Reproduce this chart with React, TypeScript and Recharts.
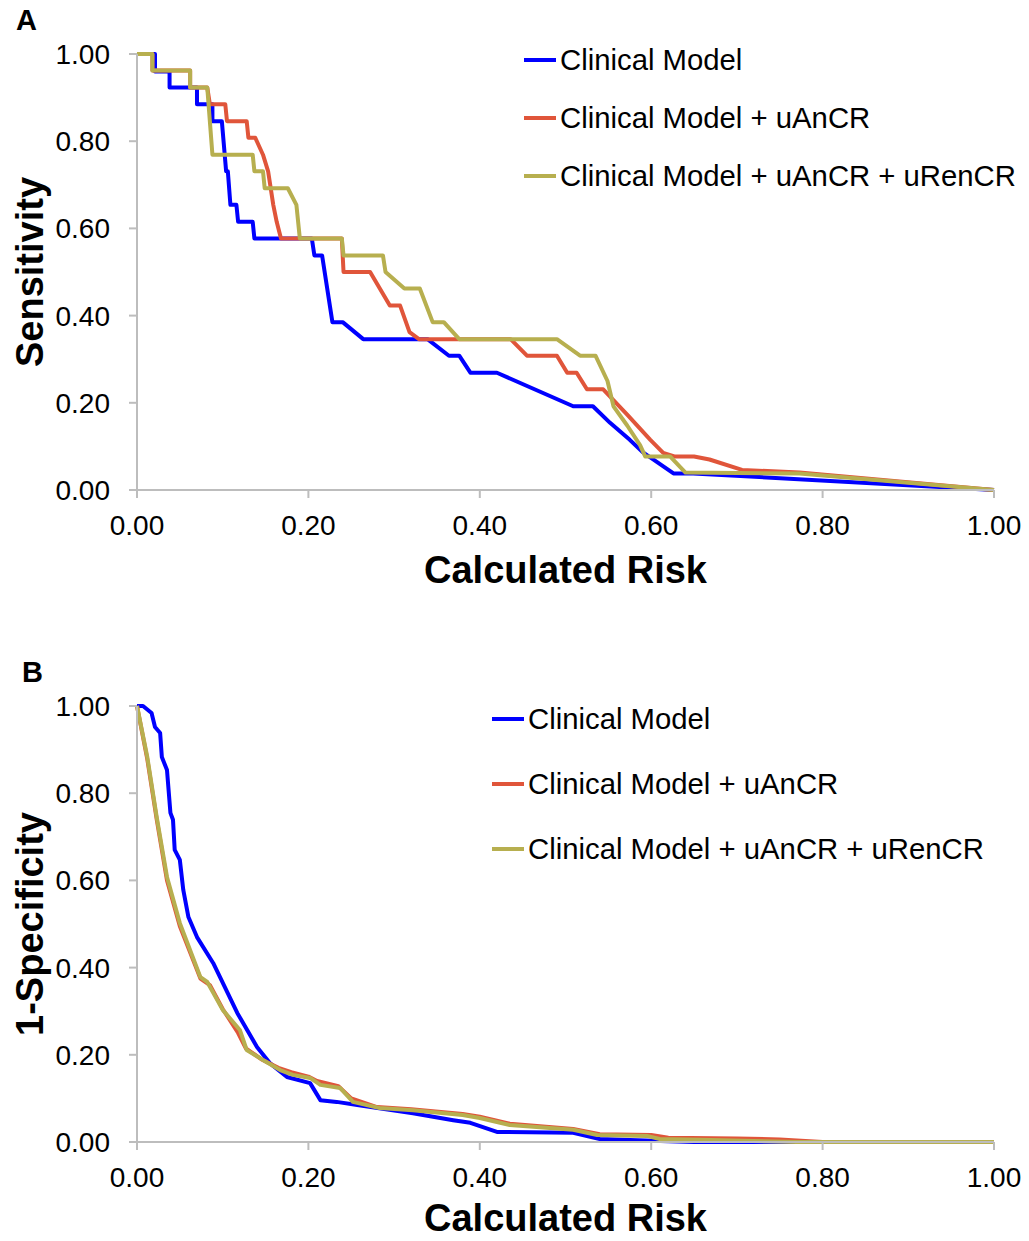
import React from 'react';
import { LineChart, Line, XAxis, YAxis } from 'recharts';

type Pt = [number, number];

// Axis ticks shared by both panels
const riskTicks = [0, 0.2, 0.4, 0.6, 0.8, 1];
const rateTicks = [0, 0.2, 0.4, 0.6, 0.8, 1];

const seriesNames = [
  'Clinical Model',
  'Clinical Model + uAnCR',
  'Clinical Model + uAnCR + uRenCR',
];
const seriesColors = ['#0000FF', '#E0553A', '#B7AF4F'];

// Panel A: sensitivity vs calculated risk  [risk, sensitivity]
const sensClinical: Pt[] = [
  [0, 1], [0.021, 1], [0.021, 0.96], [0.038, 0.96], [0.038, 0.923], [0.07, 0.923],
  [0.07, 0.885], [0.088, 0.885], [0.088, 0.846], [0.099, 0.846], [0.104, 0.731],
  [0.106, 0.731], [0.109, 0.654], [0.116, 0.654], [0.118, 0.615], [0.135, 0.615],
  [0.137, 0.577], [0.204, 0.577], [0.207, 0.538], [0.216, 0.538], [0.228, 0.385],
  [0.24, 0.385], [0.264, 0.346], [0.339, 0.346], [0.364, 0.308], [0.376, 0.308],
  [0.389, 0.269], [0.42, 0.269], [0.509, 0.192], [0.532, 0.192], [0.552, 0.154],
  [0.575, 0.115], [0.59, 0.087], [0.626, 0.038], [0.649, 0.038], [1, 0],
];
const sensAnCR: Pt[] = [
  [0, 1], [0.018, 1], [0.018, 0.962], [0.062, 0.962], [0.062, 0.923], [0.082, 0.923],
  [0.085, 0.885], [0.103, 0.885], [0.105, 0.846], [0.128, 0.846], [0.13, 0.808],
  [0.138, 0.808], [0.147, 0.769], [0.153, 0.731], [0.159, 0.654], [0.163, 0.615],
  [0.168, 0.577], [0.239, 0.577], [0.241, 0.5], [0.272, 0.5], [0.295, 0.423],
  [0.307, 0.423], [0.318, 0.362], [0.329, 0.346], [0.436, 0.346], [0.455, 0.308],
  [0.49, 0.308], [0.502, 0.269], [0.513, 0.269], [0.525, 0.231], [0.544, 0.231],
  [0.572, 0.173], [0.599, 0.115], [0.614, 0.085], [0.627, 0.077], [0.65, 0.077],
  [0.668, 0.07], [0.706, 0.046], [0.773, 0.04], [1, 0],
];
const sensAnCRRenCR: Pt[] = [
  [0, 1], [0.018, 1], [0.018, 0.962], [0.062, 0.962], [0.062, 0.923], [0.082, 0.923],
  [0.088, 0.769], [0.135, 0.769], [0.137, 0.731], [0.147, 0.731], [0.149, 0.692],
  [0.176, 0.692], [0.186, 0.654], [0.19, 0.577], [0.239, 0.577], [0.241, 0.538],
  [0.287, 0.538], [0.29, 0.5], [0.312, 0.462], [0.33, 0.462], [0.345, 0.385],
  [0.358, 0.385], [0.376, 0.346], [0.49, 0.346], [0.517, 0.308], [0.535, 0.308],
  [0.549, 0.25], [0.556, 0.192], [0.572, 0.148], [0.587, 0.103], [0.593, 0.077],
  [0.622, 0.077], [0.64, 0.04], [0.773, 0.038], [1, 0],
];

// Panel B: 1-specificity vs calculated risk  [risk, 1-specificity]
const fprClinical: Pt[] = [
  [0, 1], [0.007, 1], [0.017, 0.984], [0.021, 0.952], [0.027, 0.938], [0.029, 0.883],
  [0.035, 0.853], [0.039, 0.755], [0.042, 0.739], [0.044, 0.67], [0.05, 0.647],
  [0.054, 0.578], [0.06, 0.516], [0.07, 0.47], [0.089, 0.41], [0.117, 0.296],
  [0.14, 0.218], [0.155, 0.181], [0.175, 0.149], [0.202, 0.135], [0.214, 0.096],
  [0.233, 0.092], [0.257, 0.085], [0.322, 0.066], [0.369, 0.05], [0.389, 0.044],
  [0.42, 0.023], [0.509, 0.021], [0.54, 0.007], [0.62, 0.002], [0.65, 0], [1, 0],
];
const fprAnCR: Pt[] = [
  [0, 1], [0.012, 0.878], [0.023, 0.74], [0.035, 0.6], [0.05, 0.495], [0.074, 0.375],
  [0.085, 0.36], [0.1, 0.305], [0.118, 0.25], [0.127, 0.215], [0.145, 0.19],
  [0.165, 0.17], [0.18, 0.16], [0.2, 0.15], [0.21, 0.14], [0.235, 0.128],
  [0.25, 0.1], [0.28, 0.08], [0.32, 0.075], [0.38, 0.064], [0.4, 0.058],
  [0.435, 0.042], [0.509, 0.03], [0.54, 0.018], [0.6, 0.016], [0.62, 0.01],
  [0.7, 0.008], [0.75, 0.006], [0.8, 0], [1, 0],
];
const fprAnCRRenCR: Pt[] = [
  [0, 1], [0.012, 0.883], [0.023, 0.745], [0.035, 0.608], [0.05, 0.502], [0.074, 0.378],
  [0.082, 0.367], [0.1, 0.303], [0.12, 0.257], [0.128, 0.211], [0.147, 0.188],
  [0.167, 0.165], [0.182, 0.154], [0.202, 0.147], [0.214, 0.131], [0.237, 0.124],
  [0.252, 0.092], [0.283, 0.078], [0.322, 0.073], [0.38, 0.062], [0.4, 0.055],
  [0.435, 0.039], [0.509, 0.028], [0.537, 0.016], [0.595, 0.014], [0.61, 0.007],
  [0.657, 0.005], [0.77, 0], [1, 0],
];

const toRows = (pts: Pt[]) => pts.map(([risk, value]) => ({ risk, value }));

const FONT = 'Arial, "Liberation Sans", Helvetica, sans-serif';
const AXIS_GRAY = '#BDBDBD';
const fmt = (v: number) => v.toFixed(2);

type PanelProps = {
  top: number;
  height: number;
  yTitle: string;
  letter: string;
  letterLeft: number;
  series: Pt[][];
  legendLeft: number;
  legendTop: number;
  legendGap: number;
  xTitleDrop: number;
};

function Panel({ top, height, yTitle, letter, letterLeft, series, legendLeft, legendTop, legendGap, xTitleDrop }: PanelProps) {
  const plotTop = 54;
  const plotH = 436;
  const xAxisH = height - plotTop - plotH;
  return (
    <div style={{ position: 'absolute', left: 0, top, width: 1029, height }}>
      <LineChart width={1029} height={height} margin={{ top: plotTop, right: 35, left: 0, bottom: 0 }}>
        <XAxis
          dataKey="risk"
          type="number"
          domain={[0, 1]}
          ticks={riskTicks}
          tickFormatter={fmt}
          height={xAxisH}
          allowDuplicatedCategory={false}
          axisLine={{ stroke: AXIS_GRAY, strokeWidth: 2 }}
          tickLine={{ stroke: AXIS_GRAY, strokeWidth: 2 }}
          tickSize={8}
          tickMargin={17}
          tick={{ fill: '#000', fontSize: 28, fontFamily: FONT }}
          interval={0}
          label={(props: any) => {
            const vb = props.viewBox || {};
            return (
              <text
                x={vb.x + vb.width / 2}
                y={vb.y + xTitleDrop}
                textAnchor="middle"
                fontFamily={FONT}
                fontWeight="bold"
                fontSize={38}
                fill="#000"
              >
                Calculated Risk
              </text>
            );
          }}
        />
        <YAxis
          type="number"
          domain={[0, 1]}
          ticks={rateTicks}
          tickFormatter={fmt}
          width={137}
          axisLine={{ stroke: AXIS_GRAY, strokeWidth: 2 }}
          tickLine={{ stroke: AXIS_GRAY, strokeWidth: 2 }}
          tickSize={8}
          tickMargin={19}
          tick={{ fill: '#000', fontSize: 28, fontFamily: FONT }}
          interval={0}
          label={(props: any) => {
            const vb = props.viewBox || {};
            const cy = vb.y + vb.height / 2;
            return (
              <text
                x={30}
                y={cy}
                transform={`rotate(-90, 30, ${cy})`}
                textAnchor="middle"
                dominantBaseline="central"
                fontFamily={FONT}
                fontWeight="bold"
                fontSize={38}
                fill="#000"
              >
                {yTitle}
              </text>
            );
          }}
        />
        {series.map((pts, i) => (
          <Line
            key={seriesNames[i]}
            data={toRows(pts)}
            dataKey="value"
            name={seriesNames[i]}
            type="linear"
            stroke={seriesColors[i]}
            strokeWidth={4}
            strokeLinejoin="round"
            dot={false}
            activeDot={false}
            isAnimationActive={false}
          />
        ))}
      </LineChart>
      <div
        style={{
          position: 'absolute',
          left: letterLeft,
          top: plotTop - 54,
          fontFamily: FONT,
          fontWeight: 'bold',
          fontSize: 29,
          lineHeight: '40px',
          color: '#000',
        }}
      >
        {letter}
      </div>
      {seriesNames.map((name, i) => (
        <div
          key={name}
          style={{
            position: 'absolute',
            left: legendLeft,
            top: legendTop + i * legendGap - 20,
            height: 40,
            display: 'flex',
            alignItems: 'center',
            whiteSpace: 'nowrap',
          }}
        >
          <svg width={32} height={4} style={{ display: 'block' }}>
            <line x1={0} y1={2} x2={32} y2={2} stroke={seriesColors[i]} strokeWidth={4} />
          </svg>
          <span style={{ marginLeft: 4, fontFamily: FONT, fontSize: 29.3, lineHeight: '40px', color: '#000' }}>
            {name}
          </span>
        </div>
      ))}
    </div>
  );
}

export default function App() {
  return (
    <div style={{ position: 'absolute', left: 0, top: 0, width: 1029, height: 1241, background: '#fff' }}>
      <Panel
        top={0}
        height={600}
        yTitle="Sensitivity"
        letter="A"
        letterLeft={16}
        series={[sensClinical, sensAnCR, sensAnCRRenCR]}
        legendLeft={524}
        legendTop={60}
        legendGap={58}
        xTitleDrop={93}
      />
      <Panel
        top={652}
        height={589}
        yTitle="1-Specificity"
        letter="B"
        letterLeft={22}
        series={[fprClinical, fprAnCR, fprAnCRRenCR]}
        legendLeft={492}
        legendTop={67}
        legendGap={65}
        xTitleDrop={89}
      />
    </div>
  );
}
